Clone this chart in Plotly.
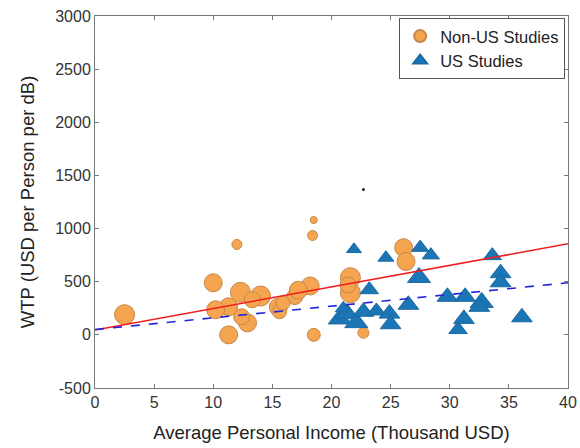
import plotly.graph_objects as go

# Non-US studies (orange circles)
nonus_income = [2.5, 10.0, 12.0, 12.3, 14.0, 11.3, 10.2, 11.3, 12.9, 12.4, 15.5, 15.6, 16.9, 18.2, 17.2,
                18.5, 18.4, 18.5, 15.9, 21.6, 21.6, 22.7, 26.1, 26.3, 13.3, 21.4]
nonus_wtp = [190, 490, 850, 400, 365, 264, 236, 0, 113, 170, 260, 217, 360, 460, 420,
             1080, 935, 0, 300, 538, 396, 20, 820, 690, 330, 470]
nonus_size = [20, 18, 10, 20, 20, 18, 18, 18, 18, 16, 18, 14, 16, 18, 18,
              7, 10, 13, 14, 20, 20, 11, 18, 18, 16, 16]

# US studies (blue triangles)
us_income = [21.9, 24.6, 27.5, 28.4, 27.4, 23.2, 20.7, 21.3, 22.1, 22.7, 23.8, 24.9, 25.0, 26.5,
             29.8, 31.3, 31.2, 30.7, 32.7, 32.5, 33.6, 34.3, 34.3, 36.1, 21.0]
us_wtp = [805, 726, 821, 750, 540, 425, 150, 200, 115, 217, 225, 200, 100, 283,
          358, 358, 150, 50, 305, 264, 745, 580, 495, 165, 250]
us_size = [13, 14, 15, 15, 20, 16, 20, 20, 20, 18, 16, 18, 18, 18,
           18, 18, 18, 16, 20, 18, 16, 18, 18, 18, 14]

# Outlier dot
dot_income = [22.7]
dot_wtp = [1368]

# Fit lines (endpoints)
fit_x = [0, 40]
red_fit = [45, 857]
blue_fit = [50, 490]

# Tick labels
x_ticks = [0, 5, 10, 15, 20, 25, 30, 35, 40]
x_ticklabels = ["0", "5", "10", "15", "20", "25", "30", "35", "40"]
y_ticks = [-500, 0, 500, 1000, 1500, 2000, 2500, 3000]
y_ticklabels = ["-500", "0", "500", "1000", "1500", "2000", "2500", "3000"]

FONT = "Liberation Sans, Arial"

fig = go.Figure()
fig.add_trace(go.Scatter(x=nonus_income, y=nonus_wtp, mode="markers", name="Non-US Studies",
                         marker=dict(symbol="circle", size=nonus_size, color="#F5A550", opacity=1,
                                     line=dict(color="#C7874A", width=1))))
fig.add_trace(go.Scatter(x=us_income, y=us_wtp, mode="markers", name="US Studies",
                         marker=dict(symbol="triangle-up", size=us_size, color="#1C76B6", opacity=1,
                                     line=dict(color="#1A6AA3", width=1))))
fig.add_trace(go.Scatter(x=dot_income, y=dot_wtp, mode="markers", showlegend=False,
                         marker=dict(size=3, color="#222222", opacity=1)))
fig.add_trace(go.Scatter(x=fit_x, y=red_fit, mode="lines", showlegend=False,
                         line=dict(color="#F01E1E", width=1.6)))
fig.add_trace(go.Scatter(x=fit_x, y=blue_fit, mode="lines", showlegend=False,
                         line=dict(color="#2222E0", width=1.6, dash="dash")))

axis_common = dict(showline=True, linecolor="#777777", linewidth=1, mirror="ticks",
                   ticks="inside", ticklen=4, tickcolor="#777777", showgrid=False, zeroline=False,
                   automargin=False, ticklabeloverflow="allow",
                   tickfont=dict(family=FONT, size=16, color="#333333"))
fig.update_layout(
    width=580, height=448,
    margin=dict(l=95, r=12, t=16, b=60),
    paper_bgcolor="white", plot_bgcolor="white",
    xaxis=dict(range=[0, 40], tickmode="array", tickvals=x_ticks, ticktext=x_ticklabels,
               title=dict(text="Average Personal Income (Thousand USD)",
                          font=dict(family=FONT, size=18.5, color="#222222")),
               **axis_common),
    yaxis=dict(range=[-500, 3000], tickmode="array", tickvals=y_ticks, ticktext=y_ticklabels,
               title=dict(text="WTP (USD per Person per dB)",
                          font=dict(family=FONT, size=18.5, color="#222222")),
               **axis_common),
    legend=dict(x=0.994, y=0.995, xanchor="right", yanchor="top",
                bordercolor="#555555", borderwidth=1, bgcolor="white",
                font=dict(family=FONT, size=16.5, color="#222222"),
                itemsizing="constant", tracegroupgap=0),
    showlegend=True,
)
fig.write_html("out.html", config={"displayModeBar": False},
               post_script="document.body.style.margin='0';document.body.style.overflow='hidden';")
